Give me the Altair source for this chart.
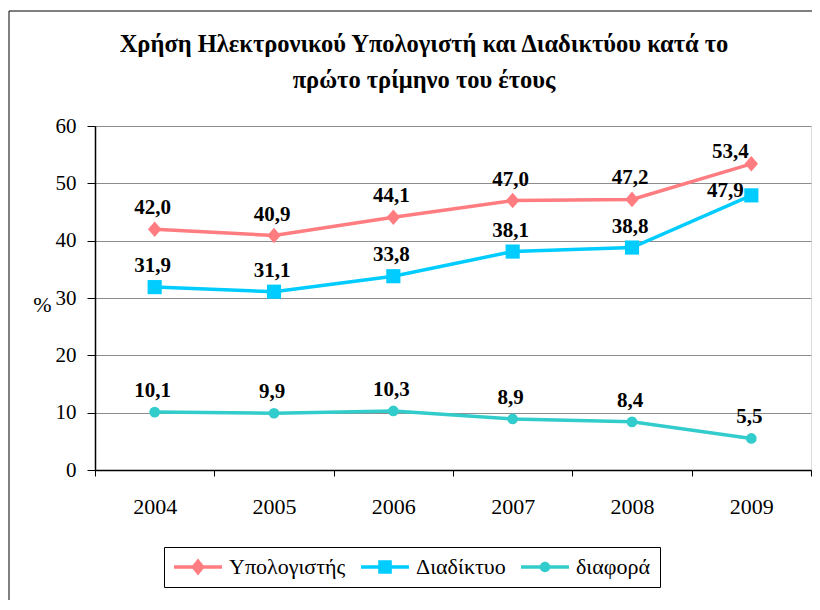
import altair as alt
import pandas as pd

# ---- data ----
years = ["2004", "2005", "2006", "2007", "2008", "2009"]
series = ["Υπολογιστής", "Διαδίκτυο", "διαφορά"]
computer = [42.0, 40.9, 44.1, 47.0, 47.2, 53.4]
internet = [31.9, 31.1, 33.8, 38.1, 38.8, 47.9]
difference = [10.1, 9.9, 10.3, 8.9, 8.4, 5.5]
y_ticks = [0, 10, 20, 30, 40, 50, 60]
title_lines = ["Χρήση Ηλεκτρονικού Υπολογιστή και Διαδικτύου κατά το",
               "πρώτο τρίμηνο του έτους"]
y_title = "%"

# ---- styles ----
colors = ["#FF7C80", "#00CCFF", "#33CCCC"]
marker_paths = [
    "M0,-1.1L0.95,0L0,1.1L-0.95,0Z",
    "M-1,-1H1V1H-1Z",
    "circle",
]
sizes = [200, 200, 115]
BAR = "M-3,-0.22H3V0.22H-3Z "
legend_paths = [
    BAR + "M0,-1.05L0.85,0L0,1.05L-0.85,0Z",
    BAR + "M-0.85,-0.85H0.85V0.85H-0.85Z",
    BAR + "M-0.65,0A0.65,0.65 0 1,1 0.65,0A0.65,0.65 0 1,1 -0.65,0Z",
]
SERIF = "Liberation Serif, Times New Roman, serif"

rows = []
for s, vals in zip(series, [computer, internet, difference]):
    for yr, v in zip(years, vals):
        rows.append({"year": yr, "series": s, "value": v})
df = pd.DataFrame(rows)

x = alt.X("year:N", title=None, sort=years,
          scale=alt.Scale(type="band", paddingInner=0, paddingOuter=0),
          axis=alt.Axis(tickBand="extent", labelAngle=0, labelFont=SERIF,
                        labelFontSize=22, labelColor="black", tickSize=6,
                        tickColor="black", domainColor="black", domainWidth=1.5,
                        labelPadding=20, grid=False))
y = alt.Y("value:Q", title=y_title,
          scale=alt.Scale(domain=[0, 60], nice=False, zero=True),
          axis=alt.Axis(values=y_ticks, format="d", grid=True, gridColor="#8C8C8C",
                        gridWidth=1, labelFont=SERIF, labelFontSize=21,
                        labelColor="black", labelPadding=11, tickSize=8,
                        tickColor="black", domainColor="black", domainWidth=1.5,
                        titleAngle=0, titleX=-53, titleY=178, titleAlign="center",
                        titleBaseline="middle", titleFont=SERIF, titleFontSize=22,
                        titleFontWeight="normal", titleColor="black"))

base = alt.Chart(df)

frame = alt.Chart(alt.Data(values=[{"f": 1}])).mark_rect(
    fill="transparent", stroke="black", strokeWidth=1
).encode(x=alt.value(-86), x2=alt.value(900), y=alt.value(-115), y2=alt.value(900))

line_layers = []
point_layers = []
for s, c, sh, sz in zip(series, colors, marker_paths, sizes):
    sub = base.transform_filter(alt.datum.series == s)
    line_layers.append(sub.mark_line(strokeWidth=3.5, color=c).encode(x=x, y=y))
    point_layers.append(
        sub.mark_point(shape=sh, filled=True, size=sz, color=c, opacity=1, strokeWidth=0)
        .encode(x=x, y=y)
    )

lab = base.transform_calculate(label="replace(format(datum.value, '.1f'), '.', ',')")
txt = dict(font=SERIF, fontSize=21, fontWeight="bold", color="black", baseline="alphabetic")
labels_normal = lab.transform_filter(
    "!(datum.year == '2009' && datum.series != 'διαφορά')"
).mark_text(dy=-15, dx=-2, **txt).encode(x=x, y=y, text="label:N")
labels_c09 = lab.transform_filter(
    f"datum.year == '2009' && datum.series == '{series[0]}'"
).mark_text(dy=-6, dx=-21, **txt).encode(x=x, y=y, text="label:N")
labels_i09 = lab.transform_filter(
    f"datum.year == '2009' && datum.series == '{series[1]}'"
).mark_text(dy=2, dx=-26, **txt).encode(x=x, y=y, text="label:N")

leg = alt.Legend(orient="none", legendX=69, legendY=421, direction="horizontal",
                 title=None, labelFont=SERIF, labelFontSize=22, labelColor="black",
                 symbolSize=256, symbolStrokeWidth=0, symbolOffset=14, labelOffset=20,
                 columnPadding=14, padding=9, strokeColor="black", fillColor="white",
                 symbolOpacity=1, columns=3)
legend_layer = base.transform_filter("false").mark_point(
    filled=True, opacity=1, size=256
).encode(
    color=alt.Color("series:N", scale=alt.Scale(domain=series, range=colors), legend=leg),
    shape=alt.Shape("series:N", scale=alt.Scale(domain=series, range=legend_paths), legend=leg),
)

chart = alt.layer(
    frame, *line_layers, *point_layers, labels_normal, labels_c09, labels_i09, legend_layer
).properties(
    width=716, height=344,
    padding={"left": 87, "top": 118, "right": 1, "bottom": 130},
    autosize=alt.AutoSizeParams(type="none"),
    title=alt.Title(text=title_lines, anchor="middle", frame="group", dx=-29,
                    offset=-102, font=SERIF, fontSize=24.5, fontWeight="bold",
                    color="black", lineHeight=36, baseline="alphabetic"),
).configure_view(
    fill="#FAF0DA", stroke="#808080", strokeWidth=1.5
).configure(background="white")

chart.save("out.html", embed_options={"renderer": "svg", "actions": False})
